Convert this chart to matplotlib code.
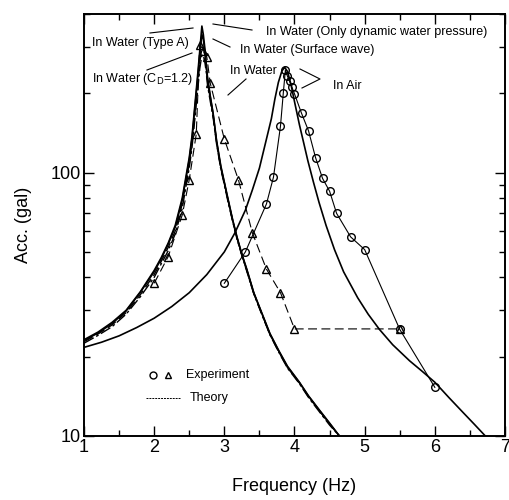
import matplotlib
matplotlib.use("Agg")
import matplotlib.pyplot as plt
from matplotlib.lines import Line2D

plt.rcParams['font.family'] = ['Liberation Sans', 'DejaVu Sans']

# experiment, in air (circles)
air_exp_f = [3.0, 3.3, 3.6, 3.7, 3.8, 3.84, 3.87, 3.9, 3.93, 3.96, 4.0, 4.1, 4.2,
             4.3, 4.4, 4.5, 4.6, 4.8, 5.0, 5.5, 6.0]
air_exp_acc = [38, 50, 76, 96, 150, 200, 245, 232, 222, 212, 199, 168, 144,
               114, 95, 85, 70, 57, 51, 25.4, 15.3]

# experiment, in water (triangles)
water_exp_f = [2.0, 2.2, 2.4, 2.5, 2.6, 2.65, 2.7, 2.75, 2.8, 3.0, 3.2, 3.4,
               3.6, 3.8, 4.0, 5.5]
water_exp_acc = [38, 48, 69, 94, 140, 305, 290, 275, 218, 134, 94, 59,
                 43, 35, 25.5, 25.5]

# theory, in air
air_th_f = [1.0, 1.25, 1.5, 1.75, 2.0, 2.25, 2.5, 2.75, 3.0, 3.15,
            3.3, 3.4, 3.5, 3.6, 3.67, 3.72, 3.77, 3.82, 3.86, 3.9,
            3.95, 4.0, 4.07, 4.13, 4.19, 4.27, 4.35, 4.45, 4.57, 4.7,
            4.9, 5.05, 5.21, 5.4, 5.64, 5.82, 6.0, 6.2, 6.4, 6.56, 6.72]
air_th_acc = [21.7, 22.7, 24, 25.8, 28, 31, 35, 41, 50, 59,
              72, 86, 104, 134, 160, 190, 220, 243, 251, 242,
              216, 186, 152, 130, 111, 92, 77, 63, 51, 42,
              33.5, 29, 25.4, 22.2, 19.3, 17.6, 16, 14, 12.3, 11.1, 10]

# theory, in water (four models)
water_th_f = [1.0, 1.2, 1.4, 1.6, 1.8, 2.0, 2.1, 2.2, 2.3, 2.4,
              2.46, 2.5, 2.54, 2.58, 2.62, 2.65, 2.68, 2.70, 2.72, 2.74,
              2.76, 2.8, 2.84, 2.89, 2.95, 3.0, 3.05, 3.12, 3.18, 3.25,
              3.32, 3.42, 3.53, 3.65, 3.78, 3.9, 4.07, 4.2, 4.35, 4.5, 4.64]
water_dyn_acc = [23.2, 24.8, 27, 30, 35.2, 42.5, 47.5, 54, 63, 80,
                 99, 114, 138, 180, 235, 290, 360, 335, 300, 262,
                 230, 195, 168, 132, 106, 92, 80, 66, 57, 49,
                 43, 35, 29.5, 24.5, 21, 18.4, 16, 14.2, 12.6, 11.2, 10]
water_surf_acc = [23.0, 24.6, 26.7, 29.8, 35, 42, 47, 53.5, 62, 78.5,
                  97, 112, 135, 176, 228, 280, 335, 320, 292, 258,
                  228, 194, 167, 131, 105, 91.5, 79.5, 65.7, 56.8, 48.8,
                  42.8, 34.9, 29.4, 24.4, 20.9, 18.3, 15.95, 14.15, 12.55, 11.15, 10]
water_typea_acc = [22.8, 24.4, 26.4, 29.4, 34.3, 41, 46, 52, 60, 76,
                   94, 108, 130, 168, 215, 262, 300, 296, 280, 252,
                   222, 190, 165, 130, 104, 91, 79, 65.5, 56.5, 48.6,
                   42.5, 34.8, 29.3, 24.3, 20.8, 18.2, 15.9, 14.1, 12.5, 11.1, 10]
water_cd_acc = [22.5, 24.1, 26.0, 29.0, 33.7, 40, 45, 50.5, 58.5, 73,
                91, 104, 125, 160, 205, 248, 280, 278, 265, 243,
                215, 186, 162, 128, 103, 90, 78, 65, 56, 48.4,
                42.2, 34.6, 29.1, 24.2, 20.7, 18.1, 15.8, 14.0, 12.4, 11.0, 10]

x_ticks = [1, 2, 3, 4, 5, 6, 7]

W, H = 510, 500


def px(x, y):
    # reference pixel position -> figure fraction
    return x / W, 1 - y / H


fig = plt.figure(figsize=(W / 100, H / 100), dpi=100)
ax = fig.add_axes([84 / W, 1 - 436 / H, 421 / W, 422 / H])

k = dict(color='black')
ax.plot(air_th_f, air_th_acc, lw=1.2, **k)
ax.plot(water_th_f, water_dyn_acc, lw=1.2, **k)
ax.plot(water_th_f, water_surf_acc, lw=1.1, **k)
ax.plot(water_th_f, water_typea_acc, lw=1.0, ls=(0, (7, 3)), **k)
ax.plot(water_th_f, water_cd_acc, lw=1.0, ls=(0, (8, 2, 2, 2)), **k)

ax.plot(air_exp_f, air_exp_acc, lw=0.8, marker='o', ms=5.5, mfc='none', mew=1.0, **k)
ax.plot(water_exp_f, water_exp_acc, lw=0.8, ls=(0, (8, 4)), marker='^', ms=5.5,
        mfc='none', mew=1.0, **k)

ax.set_yscale('log')
ax.set_xlim(1, 7)
ax.set_ylim(10, 400)
ax.set_xticks(x_ticks)
ax.set_xticks([1.5, 2.5, 3.5, 4.5, 5.5, 6.5], minor=True)
ax.set_yticks([10, 100])
ax.set_yticklabels(['10', '100'])
ax.yaxis.set_minor_formatter(plt.NullFormatter())
ax.tick_params(which='both', direction='in', top=True, right=True, labelsize=13,
               width=1.0, pad=2)
ax.tick_params(which='major', length=7)
ax.tick_params(which='minor', length=4)
for s in ax.spines.values():
    s.set_linewidth(1.4)

ax.set_xlabel('Frequency (Hz)', fontsize=13, labelpad=16)
ax.set_ylabel('Acc. (gal)', fontsize=13, labelpad=14)

# annotations
fs = 9
fig.text(*px(266, 32), 'In Water (Only dynamic water pressure)', fontsize=fs, va='center')
fig.text(*px(240, 50), 'In Water (Surface wave)', fontsize=fs, va='center')
fig.text(*px(92, 43), 'In Water (Type A)', fontsize=fs, va='center')
fig.text(*px(92, 79), 'In Water (C$_{\\mathrm{D}}$=1.2)', fontsize=fs, va='center')
fig.text(*px(230, 71), 'In Water', fontsize=fs, va='center')
fig.text(*px(333, 86), 'In Air', fontsize=fs, va='center')

pointers = [
    [(213, 24), (252, 30)],
    [(213, 39), (230, 47)],
    [(150, 33), (193, 28)],
    [(147, 70), (192, 53)],
    [(246, 79), (228, 95)],
    [(300, 69), (320, 79), (302, 88)],
]
for pts in pointers:
    xs = [px(*p)[0] for p in pts]
    ys = [px(*p)[1] for p in pts]
    fig.add_artist(Line2D(xs, ys, lw=0.8, color='black', transform=fig.transFigure))

# legend
fig.add_artist(Line2D(*zip(px(153, 375)), marker='o', ms=5, mfc='none', color='black',
                      transform=fig.transFigure))
fig.add_artist(Line2D(*zip(px(168, 375)), marker='^', ms=5, mfc='none', color='black',
                      transform=fig.transFigure))
fig.text(*px(186, 375), 'Experiment', fontsize=fs, va='center')
fig.add_artist(Line2D(*zip(px(146, 398), px(180, 398)), lw=0.7, ls=(0, (2, 1)),
                      color='black', transform=fig.transFigure))
fig.text(*px(190, 398), 'Theory', fontsize=fs, va='center')

fig.savefig('out.png', dpi=100)
